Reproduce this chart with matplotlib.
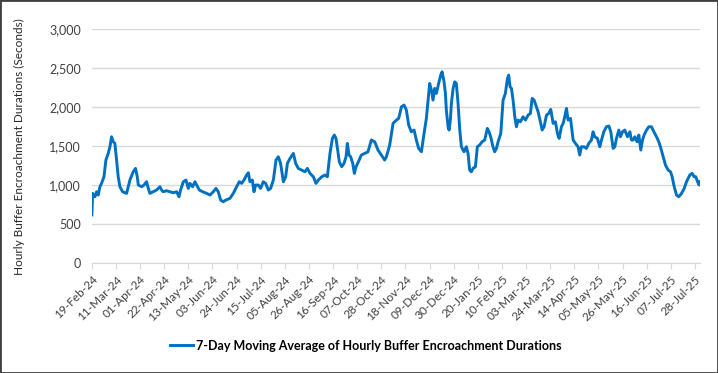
import matplotlib
matplotlib.use("Agg")
import matplotlib.pyplot as plt
import matplotlib.dates as mdates
import pandas as pd
from matplotlib.patches import Rectangle

plt.rcParams['font.family'] = ['Lato', 'DejaVu Sans']

start = pd.Timestamp("2024-02-19")

# days since 19-Feb-24 and the 7-day moving average (seconds)
days = [0.0, 0.6, 2.6, 4.1, 5.5, 7.0, 8.4, 10.5, 12.2, 14.2, 15.7, 17.1, 18.6, 20.0,
        21.5, 22.9, 24.4, 26.7, 30.2, 31.6, 33.1, 36.0, 38.0, 39.5, 40.4, 43.3, 45.3,
        47.6, 49.1, 50.5, 53.4, 56.3, 59.2, 60.7, 62.1, 65.0, 67.9, 70.8, 73.8, 75.8,
        77.2, 79.6, 81.9, 83.9, 85.4, 87.7, 89.7, 91.2, 93.5, 96.4, 99.9, 102.8, 105.7,
        108.0, 110.0, 112.1, 114.4, 116.7, 120.2, 123.1, 126.0, 128.3, 130.4, 132.4,
        134.7, 136.2, 137.6, 139.7, 141.1, 142.6, 144.9, 146.9, 149.2, 151.3, 153.6,
        155.6, 158.0, 160.3, 162.3, 164.3, 166.7, 168.7, 170.2, 172.5, 175.4, 177.4,
        179.7, 182.6, 185.5, 187.6, 189.9, 192.8, 195.1, 197.2, 200.1, 203.0, 205.0,
        207.3, 209.4, 211.1, 212.5, 214.0, 215.4, 217.5, 219.5, 221.3, 222.4, 223.9,
        225.3, 227.1, 228.5, 230.0, 232.0, 234.6, 237.5, 240.4, 243.3, 246.2, 249.1,
        252.0, 254.9, 256.4, 259.3, 262.2, 265.1, 267.1, 269.5, 271.8, 273.8, 275.8,
        278.1, 280.5, 282.5, 284.5, 286.9, 289.2, 291.2, 292.7, 294.1, 295.6, 297.0,
        298.5, 299.9, 301.9, 303.7, 304.9, 306.6, 307.8, 308.6, 310.1, 311.0, 312.1,
        313.0, 314.5, 315.9, 317.3, 318.8, 320.3, 321.7, 324.0, 326.0, 327.5, 328.9,
        330.4, 331.8, 333.9, 335.6, 337.6, 339.7, 342.0, 344.3, 345.8, 347.2, 349.2,
        350.7, 352.2, 353.7, 356.0, 358.0, 360.0, 361.8, 362.9, 364.1, 365.3, 366.7,
        368.2, 369.6, 371.1, 373.1, 375.4, 377.5, 379.8, 381.8, 383.3, 385.0, 387.0,
        388.5, 390.8, 392.0, 393.7, 395.8, 397.8, 399.5, 401.6, 403.6, 405.3, 406.8,
        408.8, 410.3, 411.7, 413.2, 414.6, 416.7, 419.0, 421.0, 423.3, 424.7, 426.2,
        428.5, 430.5, 432.6, 434.9, 436.4, 437.8, 440.1, 442.2, 443.7, 445.7, 448.0,
        450.1, 451.8, 453.8, 455.3, 456.7, 458.8, 460.2, 462.0, 464.0, 466.3, 468.4,
        469.8, 471.3, 472.7, 474.7, 476.2, 477.9, 479.4, 480.8, 482.9, 484.9, 487.2,
        489.3, 491.6, 493.6, 495.4, 497.4, 499.4, 501.7, 503.8, 505.2, 507.0, 509.0,
        511.0, 513.4, 515.7, 517.7, 520.6, 522.6, 524.4, 525.8, 527.3, 528.7, 529.3]

values = [620, 896, 853, 917, 875, 981, 1024, 1109, 1323, 1408, 1493, 1621, 1557, 1536,
          1323, 1109, 981, 917, 896, 981, 1067, 1173, 1216, 1109, 1003, 981, 1003,
          1045, 960, 896, 917, 939, 981, 939, 917, 930, 917, 904, 917, 853,
          939, 1045, 1067, 960, 1024, 981, 1045, 1003, 939, 917, 896, 875, 917,
          960, 917, 811, 789, 811, 832, 896, 981, 1045, 1024, 1067,
          1131, 1160, 1045, 1067, 917, 1003, 1003, 960, 1045, 1024, 939,
          960, 1067, 1323, 1365, 1280, 1045, 1109, 1280, 1344, 1408, 1280,
          1216, 1195, 1173, 1216, 1152, 1109, 1024, 1067, 1109, 1131, 1109,
          1408, 1600, 1643, 1600, 1451, 1301, 1237, 1280, 1365, 1536, 1387,
          1365, 1280, 1152, 1237, 1300, 1387, 1408, 1429, 1579, 1557, 1451,
          1387, 1323, 1365, 1515, 1792, 1835, 1856, 2005, 2027, 1963, 1771,
          1685, 1707, 1579, 1472, 1429, 1664, 1856, 2091, 2304, 2219, 2091,
          2240, 2176, 2304, 2411, 2453, 2325, 2176, 1963, 1749, 1707, 1835,
          2048, 2240, 2325, 2304, 2048, 1707, 1493, 1429, 1493, 1408, 1195,
          1173, 1216, 1237, 1493, 1515, 1557, 1579, 1728, 1685, 1621, 1493,
          1429, 1472, 1557, 1664, 2091, 2176, 2368, 2411, 2261, 2240, 2091,
          1877, 1749, 1835, 1813, 1877, 1835, 1899, 1920, 2112, 2091, 2005,
          1941, 1792, 1707, 1749, 1899, 1920, 1971, 1792, 1813, 1664, 1600,
          1749, 1792, 1877, 1984, 1835, 1856, 1579, 1536, 1493, 1387, 1493,
          1493, 1472, 1536, 1579, 1685, 1621, 1600, 1493, 1579, 1685, 1749,
          1758, 1685, 1472, 1493, 1600, 1707, 1621, 1685, 1707, 1621, 1685,
          1579, 1579, 1621, 1557, 1643, 1451, 1579, 1643, 1707, 1749, 1749,
          1685, 1621, 1557, 1472, 1365, 1259, 1195, 1173, 1109, 981, 875,
          853, 896, 960, 1045, 1131, 1152, 1109, 1109, 1045, 1003, 1045]

dates = start + pd.to_timedelta(days, unit="D")
tick_dates = pd.date_range(start, periods=26, freq="21D")

fig = plt.figure(figsize=(7.18, 3.73), dpi=100)
ax = fig.add_axes([0.128, 0.294, 0.847, 0.628])

ax.plot(dates, values, color="#0070C0", linewidth=2.1,
        label="7-Day Moving Average of Hourly Buffer Encroachment Durations")

ax.set_ylim(0, 3000)
ax.set_yticks(range(0, 3001, 500))
ax.yaxis.set_major_formatter(matplotlib.ticker.FuncFormatter(lambda v, p: f"{int(v):,}"))
ax.set_xlim(start, start + pd.Timedelta(days=529.5))
ax.set_xticks(tick_dates)
ax.xaxis.set_major_formatter(mdates.DateFormatter("%d-%b-%y"))
plt.setp(ax.get_xticklabels(), rotation=45, ha="right", rotation_mode="anchor")

ax.grid(axis="y", color="#d9d9d9", linewidth=1)
ax.set_axisbelow(True)
for s in ["top", "right", "left"]:
    ax.spines[s].set_visible(False)
ax.spines["bottom"].set_color("#d9d9d9")
ax.tick_params(axis="y", length=0, labelsize=9, colors="#404040", pad=8)
ax.tick_params(axis="x", length=4, color="#d9d9d9", labelsize=8.5, labelcolor="#404040")

ax.set_ylabel("Hourly Buffer Encroachment Durations (Seconds)", fontsize=8.5, color="#262626")
ax.yaxis.set_label_coords(-0.11, 0.5)

fig.legend(loc="center", bbox_to_anchor=(0.51, 0.073), frameon=False,
           prop={"weight": "bold", "size": 9}, handlelength=1.8, handletextpad=0.3)

fig.patches.append(Rectangle((0, 0), 1, 1, transform=fig.transFigure, fill=False,
                             edgecolor="#404040", linewidth=2))

fig.savefig("out.png", dpi=100)
